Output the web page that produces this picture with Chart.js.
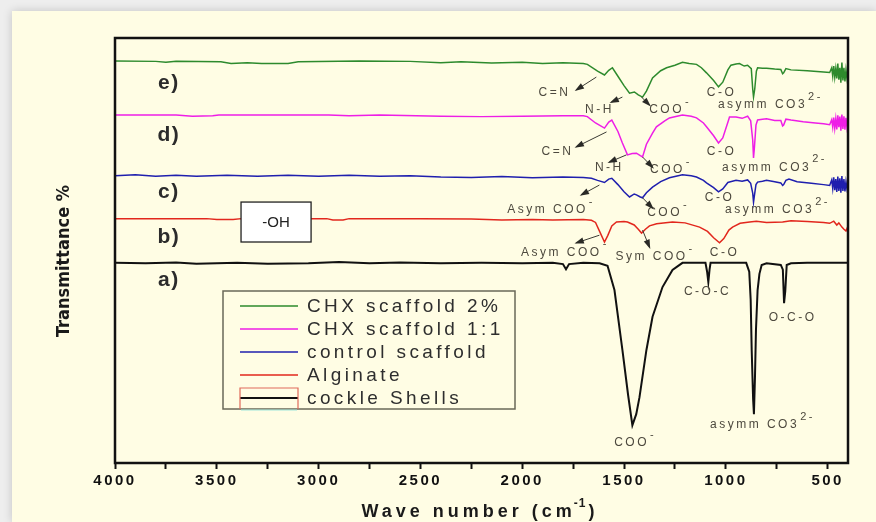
<!DOCTYPE html>
<html>
<head>
<meta charset="utf-8">
<script src="https://cdn.jsdelivr.net/npm/chart.js@4.4.1/dist/chart.umd.min.js"></script>
<style>
  html, body { margin: 0; padding: 0; background: #eeeeee; overflow: hidden; }
  #paper { position: absolute; left: 12px; top: 11px; width: 864px; height: 511px;
           background: #fffde4; box-shadow: 0 0 9px rgba(0,0,0,0.18); }
  #ftir { position: absolute; left: 0; top: 0; }
</style>
</head>
<body>
<div id="paper"></div>
<canvas id="ftir" width="876" height="522"></canvas>
<script>
// wave numbers (cm-1) and offset transmittance
const chx2 = [[4000,94.6],[3800,94.5],[3750,94.3],[3700,94.5],[3480,94.4],[3430,94.0],[3350,94.2],[3280,94.0],[3150,94.0],[3100,94.4],
  [2800,94.6],[2550,94.5],[2400,94.2],[2300,94.4],[2150,94.1],[2000,94.3],[1900,94.0],[1800,94.2],[1700,94.0],[1680,93.8],
  [1630,92.2],[1596,91.3],[1575,92.4],[1557,93.0],[1530,91.0],[1500,88.8],[1473,87.0],[1449,87.3],[1430,86.6],[1409,86.1],
  [1390,87.5],[1360,90.6],[1320,92.3],[1291,93.0],[1250,93.6],[1213,94.3],[1180,94.0],[1144,93.8],[1120,93.0],[1095,91.8],
  [1060,90.0],[1036,88.5],[1015,89.6],[990,92.5],[975,93.6],[950,93.9],[933,94.0],[910,93.4],[893,93.6],[875,92.8],
  [868,88.0],[864,86.1],[858,88.0],[850,92.2],[844,93.0],[820,92.9],[800,92.9],[760,92.7],[730,92.6],[721,91.6],
  [716,91.8],[705,92.8],[680,92.5],[600,92.3],[520,92.0],[490,91.9],[480,93.0],[475,91.0],[470,93.4],[465,90.8],
  [460,92.8],[455,90.5],[450,94.0],[445,90.2],[440,93.0],[435,89.5],[430,94.2],[425,90.0],[420,93.0],[415,89.8],
  [410,92.5],[405,90.5],[402,91.5]];

const chx11 = [[4000,81.9],[3700,81.9],[3620,81.6],[3520,81.7],[3490,81.9],[2950,81.9],[2850,81.7],[2700,81.9],[2400,81.6],[2200,81.5],
  [2000,81.6],[1800,81.7],[1700,81.7],[1680,81.5],[1640,80.0],[1596,78.8],[1575,80.2],[1560,80.7],[1530,78.0],[1508,75.3],
  [1483,72.5],[1460,72.8],[1439,72.9],[1420,72.3],[1409,72.0],[1390,75.0],[1360,77.6],[1341,79.1],[1300,80.5],[1277,81.2],
  [1240,81.6],[1213,81.9],[1170,81.6],[1144,81.2],[1110,80.0],[1095,79.1],[1060,77.0],[1036,75.3],[1015,76.5],[990,80.2],
  [982,81.4],[950,81.4],[920,81.1],[893,81.6],[878,80.5],[868,76.0],[864,71.8],[860,74.0],[852,79.5],[844,80.7],
  [820,80.9],[800,81.0],[760,80.6],[730,80.6],[721,79.3],[716,79.5],[705,80.9],[680,80.7],[620,80.3],[560,80.0],
  [520,79.8],[490,79.6],[480,80.8],[475,79.0],[470,81.3],[465,78.8],[460,81.0],[455,78.5],[450,81.8],[445,79.0],
  [440,81.5],[435,78.2],[430,82.0],[425,78.6],[420,81.6],[415,78.4],[410,81.2],[405,79.0],[402,80.0]];

const control = [[4000,67.6],[3900,67.8],[3800,67.5],[3700,67.7],[3600,67.5],[3450,67.7],[3300,67.5],[3150,67.7],[3000,67.5],[2850,67.7],
  [2700,67.5],[2550,67.6],[2400,67.3],[2250,67.2],[2100,67.4],[1950,67.1],[1800,67.3],[1700,67.2],[1660,67.0],[1630,66.5],
  [1596,66.0],[1575,66.8],[1560,67.0],[1530,65.5],[1500,63.8],[1473,62.6],[1450,63.3],[1439,63.1],[1420,62.6],[1409,62.4],
  [1390,63.6],[1360,64.9],[1320,66.2],[1277,67.1],[1213,67.8],[1170,67.6],[1144,67.3],[1110,66.5],[1095,65.9],[1060,64.8],
  [1036,63.8],[1015,64.5],[990,66.0],[982,66.1],[950,66.5],[920,66.3],[893,66.6],[878,65.8],[868,63.5],[864,61.4],
  [860,62.8],[852,65.5],[844,66.1],[820,66.3],[800,66.5],[760,66.2],[730,65.9],[721,65.3],[716,65.5],[705,66.5],
  [690,66.8],[650,66.2],[580,65.8],[520,65.5],[490,65.3],[480,66.6],[475,64.6],[470,67.2],[465,64.2],[460,66.8],
  [455,63.8],[450,67.4],[445,64.0],[440,67.0],[435,63.6],[430,67.5],[425,64.0],[420,66.8],[415,63.9],[410,66.2],
  [405,64.5],[402,65.2]];

const alginate = [[4000,57.5],[3550,57.5],[3500,57.3],[3420,57.3],[3380,57.5],[2960,57.5],[2930,57.2],[2880,57.2],[2850,57.5],[2500,57.5],
  [2250,57.4],[2100,57.2],[1950,57.3],[1850,57.2],[1700,57.3],[1660,57.1],[1640,56.6],[1620,54.5],[1596,52.0],[1580,53.5],
  [1560,55.8],[1537,56.7],[1500,56.8],[1483,56.7],[1450,56.0],[1430,55.0],[1414,54.1],[1395,55.0],[1375,55.8],[1340,56.3],
  [1262,56.7],[1200,56.5],[1129,55.5],[1090,54.5],[1060,53.0],[1031,51.8],[1010,52.8],[985,54.8],[967,55.5],[930,56.4],
  [883,56.7],[850,56.9],[800,56.6],[721,56.7],[680,57.0],[600,56.8],[520,56.6],[490,56.4],[470,56.9],[455,56.0],
  [445,56.5],[430,55.5],[420,55.0],[410,54.6],[402,55.5]];

const shells = [[4000,47.1],[3850,47.0],[3700,47.2],[3600,46.9],[3400,47.1],[3250,46.9],[3050,47.0],[2900,47.3],[2750,47.0],[2600,47.2],
  [2400,47.0],[2200,47.1],[2000,47.0],[1850,47.1],[1800,46.8],[1785,45.6],[1770,46.8],[1700,47.1],[1620,47.0],[1581,46.4],
  [1547,40.7],[1508,26.6],[1480,16.0],[1459,8.9],[1440,11.5],[1424,15.5],[1390,26.6],[1360,34.4],[1311,41.4],[1262,45.4],
  [1213,47.1],[1100,47.1],[1092,45.0],[1086,42.6],[1080,45.5],[1075,47.1],[900,47.1],[885,45.0],[878,38.4],[873,26.6],
  [866,15.0],[862,11.5],[857,20.0],[852,31.3],[844,40.7],[835,44.5],[824,46.6],[800,47.0],[730,46.6],[720,45.5],
  [714,37.6],[708,40.5],[701,46.6],[680,47.0],[600,47.1],[500,47.1],[402,47.1]];

const seriesNames = ['CHX scaffold 2%', 'CHX scaffold 1:1', 'control scaffold', 'Alginate', 'cockle Shells'];
const seriesColors = ['#2d8a2d', '#ee1ee6', '#1f1fae', '#e2271d', '#111111'];
const seriesData = [chx2, chx11, control, alginate, shells];
const panelTags = [['e)', 89.4], ['d)', 77.2], ['c)', 63.8], ['b)', 53.2], ['a)', 43.1]];

const majorTicks = [4000, 3500, 3000, 2500, 2000, 1500, 1000, 500];
const minorTicks = [3750, 3250, 2750, 2250, 1750, 1250, 750];

// band labels: text, superscript, wave number, transmittance
const bandLabels = [
  ['C=N', '', 1842, 87.1], ['N-H', '', 1621, 83.1], ['COO', '-', 1291, 83.1], ['C-O', '', 1021, 87.1], ['asymm CO3', '2-', 820, 84.2],
  ['C=N', '', 1827, 73.2], ['N-H', '', 1572, 69.6], ['COO', '-', 1287, 68.9], ['C-O', '', 1021, 73.2], ['asymm CO3', '2-', 800, 69.6],
  ['Asym COO', '-', 1876, 59.5], ['COO', '-', 1301, 58.8], ['C-O', '', 1031, 62.4], ['asymm CO3', '2-', 785, 59.5],
  ['Asym COO', '-', 1808, 49.6], ['Sym COO', '-', 1365, 48.5], ['C-O', '', 1006, 49.6],
  ['C-O-C', '', 1090, 40.2], ['O-C-O', '', 672, 34.1], ['asymm CO3', '2-', 859, 8.9], ['COO', '-', 1463, 4.7]
];
// arrows: from (wn, T) to (wn, T), head at the end
const bandArrows = [
  [1636, 90.8, 1734, 87.8], [1508, 86.1, 1562, 84.9], [1414, 86.1, 1375, 84.2],
  [1586, 77.9, 1734, 74.4], [1488, 72.5, 1572, 70.8], [1409, 72.0, 1360, 69.6],
  [1621, 65.4, 1709, 63.1], [1409, 62.4, 1360, 60.0],
  [1621, 53.6, 1734, 51.8], [1409, 54.8, 1375, 50.8]
];

const SANS = "'Liberation Sans', Arial, Helvetica, sans-serif";

function drawSup(ctx, txt, sup, x, y, supFont) {
  const w = ctx.measureText(txt).width;
  ctx.textAlign = 'left';
  ctx.fillText(txt, x - w / 2, y);
  if (sup) {
    const f = ctx.font;
    ctx.font = supFont;
    ctx.fillText(sup, x + w / 2 + 1, y - 8);
    ctx.font = f;
  }
}

const decorations = {
  id: 'decorations',
  beforeDraw(chart) {
    chart.ctx.letterSpacing = '2.5px';
  },
  afterDraw(chart) {
    const ctx = chart.ctx;
    const a = chart.chartArea;
    const xs = chart.scales.x, ys = chart.scales.y;
    ctx.save();
    ctx.letterSpacing = '0px';
    ctx.textBaseline = 'middle';

    // frame
    ctx.strokeStyle = '#111';
    ctx.lineWidth = 2.5;
    ctx.strokeRect(a.left, a.top, a.right - a.left, a.bottom - a.top);

    // panel tags
    ctx.fillStyle = '#2b2b2b';
    ctx.font = 'bold 21px ' + SANS;
    ctx.letterSpacing = '1.5px';
    ctx.textAlign = 'center';
    panelTags.forEach(([t, v]) => ctx.fillText(t, xs.getPixelForValue(3735), ys.getPixelForValue(v)));

    // -OH box
    const bx0 = xs.getPixelForValue(3381), bx1 = xs.getPixelForValue(3037);
    const by0 = ys.getPixelForValue(61.4), by1 = ys.getPixelForValue(52.0);
    ctx.fillStyle = '#ffffff';
    ctx.fillRect(bx0, by0, bx1 - bx0, by1 - by0);
    ctx.strokeStyle = '#222';
    ctx.lineWidth = 1.3;
    ctx.strokeRect(bx0, by0, bx1 - bx0, by1 - by0);
    ctx.fillStyle = '#222';
    ctx.font = '15px ' + SANS;
    ctx.letterSpacing = '0px';
    ctx.fillText('-OH', (bx0 + bx1) / 2, (by0 + by1) / 2 + 1);

    // band labels
    ctx.fillStyle = '#4d493e';
    ctx.font = '12px ' + SANS;
    ctx.letterSpacing = '2.5px';
    bandLabels.forEach(([t, s, wn, v]) =>
      drawSup(ctx, t, s, xs.getPixelForValue(wn), ys.getPixelForValue(v), '11px ' + SANS));

    // arrows
    ctx.strokeStyle = '#3a3a34';
    ctx.fillStyle = '#2a2a26';
    ctx.lineWidth = 1;
    bandArrows.forEach(([w0, v0, w1, v1]) => {
      const x0 = xs.getPixelForValue(w0), y0 = ys.getPixelForValue(v0);
      const x1 = xs.getPixelForValue(w1), y1 = ys.getPixelForValue(v1);
      const ang = Math.atan2(y1 - y0, x1 - x0);
      ctx.beginPath(); ctx.moveTo(x0, y0); ctx.lineTo(x1, y1); ctx.stroke();
      ctx.beginPath();
      ctx.moveTo(x1 + 2 * Math.cos(ang), y1 + 2 * Math.sin(ang));
      ctx.lineTo(x1 - 8 * Math.cos(ang - 0.4), y1 - 8 * Math.sin(ang - 0.4));
      ctx.lineTo(x1 - 8 * Math.cos(ang + 0.4), y1 - 8 * Math.sin(ang + 0.4));
      ctx.closePath(); ctx.fill();
    });

    // legend box
    const lx = a.left + 108, ly = a.top + 253, lw = 292, lh = 118;
    ctx.strokeStyle = '#6a6858';
    ctx.lineWidth = 1.5;
    ctx.strokeRect(lx, ly, lw, lh);
    ctx.font = '19px ' + SANS;
    ctx.letterSpacing = '3.4px';
    ctx.textAlign = 'left';
    seriesNames.forEach((name, i) => {
      const y = ly + 15 + i * 23;
      ctx.strokeStyle = seriesColors[i];
      ctx.lineWidth = i === 4 ? 2 : 1.5;
      ctx.beginPath(); ctx.moveTo(lx + 17, y); ctx.lineTo(lx + 75, y); ctx.stroke();
      ctx.fillStyle = '#2e2e2e';
      ctx.fillText(name, lx + 84, y + 1);
    });
    // selection marks around the last legend sample
    ctx.strokeStyle = '#e06a5a';
    ctx.lineWidth = 1.2;
    ctx.beginPath();
    ctx.moveTo(lx + 17, ly + lh); ctx.lineTo(lx + 17, ly + 97);
    ctx.lineTo(lx + 75, ly + 97); ctx.lineTo(lx + 75, ly + lh);
    ctx.stroke();
    ctx.strokeStyle = '#9fe8dc';
    ctx.beginPath(); ctx.moveTo(lx + 18, ly + lh + 1); ctx.lineTo(lx + 74, ly + lh + 1); ctx.stroke();

    // y title
    ctx.save();
    ctx.translate(64, 261);
    ctx.rotate(-Math.PI / 2);
    ctx.fillStyle = '#1a1a1a';
    ctx.font = "bold 18px 'Liberation Sans Narrow', 'DejaVu Sans Condensed', sans-serif";
    ctx.letterSpacing = '0px';
    ctx.textAlign = 'center';
    ctx.fillText('Transmittance %', 0, 0);
    ctx.restore();

    // x title with superscript
    ctx.fillStyle = '#1a1a1a';
    ctx.letterSpacing = '4px';
    ctx.font = 'bold 18px ' + SANS;
    const p1 = 'Wave number (cm', p3 = ')';
    const w1 = ctx.measureText(p1).width, w3 = ctx.measureText(p3).width;
    ctx.font = 'bold 12px ' + SANS;
    ctx.letterSpacing = '1px';
    const w2 = ctx.measureText('-1').width;
    let x = 480 - (w1 + w2 + w3) / 2;
    const ty = 512;
    ctx.textAlign = 'left';
    ctx.font = 'bold 18px ' + SANS; ctx.letterSpacing = '4px';
    ctx.fillText(p1, x, ty); x += w1;
    ctx.font = 'bold 12px ' + SANS; ctx.letterSpacing = '1px';
    ctx.fillText('-1', x - 2, ty - 8); x += w2;
    ctx.font = 'bold 18px ' + SANS; ctx.letterSpacing = '4px';
    ctx.fillText(p3, x, ty);
    ctx.restore();
  }
};

new Chart(document.getElementById('ftir'), {
  type: 'line',
  data: {
    datasets: seriesData.map((d, i) => ({
      label: seriesNames[i],
      data: d.map(([x, y]) => ({ x, y })),
      borderColor: seriesColors[i],
      borderWidth: i === 4 ? 2 : 1.5,
      pointRadius: 0,
      tension: 0,
      fill: false
    }))
  },
  options: {
    responsive: false,
    animation: false,
    layout: { padding: { left: 115, right: 28, top: 38, bottom: 0 } },
    plugins: { legend: { display: false }, tooltip: { enabled: false } },
    scales: {
      x: {
        type: 'linear',
        reverse: true,
        min: 400,
        max: 4000,
        afterBuildTicks: s => { s.ticks = majorTicks.concat(minorTicks).sort((p, q) => q - p).map(v => ({ value: v })); },
        afterFit: s => { s.height = 59; },
        ticks: {
          autoSkip: false,
          maxRotation: 0,
          padding: 3,
          color: '#111',
          font: { family: SANS, size: 15, weight: 'bold' },
          callback: v => majorTicks.includes(v) ? String(v) : ''
        },
        grid: { drawOnChartArea: false, color: '#111', tickLength: 6, tickWidth: 2 },
        border: { display: false }
      },
      y: { display: false, min: 0, max: 100 }
    }
  },
  plugins: [decorations]
});
</script>
</body>
</html>
